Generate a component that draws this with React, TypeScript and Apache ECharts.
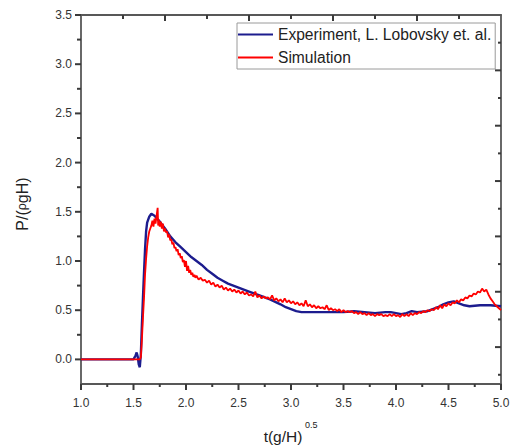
import React, { useEffect, useRef } from "react";
import * as echarts from "echarts";

// ---- Data ----
const EXP_X = [1.0, 1.5, 1.52, 1.53, 1.54, 1.55, 1.56, 1.57, 1.58, 1.59, 1.6, 1.61, 1.62, 1.63, 1.65, 1.67, 1.7, 1.75, 1.8, 1.85, 1.9, 1.95, 2.0, 2.05, 2.1, 2.15, 2.2, 2.25, 2.3, 2.35, 2.4, 2.45, 2.5, 2.6, 2.7, 2.8, 2.9, 2.95, 3.0, 3.05, 3.1, 3.2, 3.3, 3.4, 3.5, 3.6, 3.7, 3.8, 3.9, 3.95, 4.0, 4.05, 4.1, 4.15, 4.2, 4.3, 4.4, 4.45, 4.5, 4.55, 4.6, 4.65, 4.7, 4.8, 4.9, 5.0];
const EXP_Y = [0, 0, 0.04, 0.07, 0.03, -0.05, -0.08, 0.05, 0.35, 0.62, 0.88, 1.12, 1.3, 1.39, 1.45, 1.48, 1.46, 1.4, 1.33, 1.25, 1.19, 1.14, 1.09, 1.04, 1.0, 0.96, 0.91, 0.87, 0.83, 0.8, 0.77, 0.75, 0.73, 0.69, 0.65, 0.61, 0.56, 0.53, 0.51, 0.49, 0.48, 0.48, 0.48, 0.48, 0.48, 0.49, 0.48, 0.47, 0.48, 0.48, 0.47, 0.46, 0.47, 0.49, 0.48, 0.49, 0.53, 0.56, 0.58, 0.59, 0.57, 0.55, 0.54, 0.55, 0.55, 0.54];

const SIM_X = [1.0, 1.5, 1.56, 1.57, 1.58, 1.59, 1.6, 1.61, 1.62, 1.63, 1.64, 1.65, 1.66, 1.67, 1.68, 1.69, 1.7, 1.71, 1.72, 1.73, 1.735, 1.74, 1.75, 1.76, 1.77, 1.78, 1.79, 1.8, 1.81, 1.82, 1.83, 1.84, 1.85, 1.86, 1.87, 1.88, 1.89, 1.9, 1.91, 1.92, 1.93, 1.94, 1.95, 1.96, 1.97, 1.98, 1.99, 2.0, 2.01, 2.02, 2.03, 2.04, 2.05, 2.06, 2.07, 2.08, 2.09, 2.1, 2.12, 2.14, 2.16, 2.18, 2.2, 2.22, 2.24, 2.26, 2.28, 2.3, 2.32, 2.34, 2.36, 2.38, 2.4, 2.42, 2.44, 2.46, 2.48, 2.5, 2.52, 2.54, 2.56, 2.58, 2.6, 2.62, 2.64, 2.66, 2.68, 2.7, 2.72, 2.74, 2.76, 2.78, 2.8, 2.82, 2.84, 2.86, 2.88, 2.9, 2.92, 2.94, 2.96, 2.98, 3.0, 3.02, 3.04, 3.06, 3.08, 3.1, 3.12, 3.14, 3.16, 3.18, 3.2, 3.22, 3.24, 3.26, 3.28, 3.3, 3.32, 3.34, 3.36, 3.38, 3.4, 3.42, 3.44, 3.46, 3.48, 3.5, 3.52, 3.54, 3.56, 3.58, 3.6, 3.62, 3.64, 3.66, 3.68, 3.7, 3.72, 3.74, 3.76, 3.78, 3.8, 3.82, 3.84, 3.86, 3.88, 3.9, 3.92, 3.94, 3.96, 3.98, 4.0, 4.02, 4.04, 4.06, 4.08, 4.1, 4.12, 4.14, 4.16, 4.18, 4.2, 4.22, 4.24, 4.26, 4.28, 4.3, 4.32, 4.34, 4.36, 4.38, 4.4, 4.42, 4.44, 4.46, 4.48, 4.5, 4.52, 4.54, 4.56, 4.58, 4.6, 4.62, 4.64, 4.66, 4.68, 4.7, 4.72, 4.74, 4.76, 4.78, 4.8, 4.82, 4.84, 4.86, 4.88, 4.9, 4.92, 4.94, 4.96, 4.98, 5.0];
const SIM_Y = [0, 0, 0, 0.02, 0.2, 0.42, 0.62, 0.86, 1.02, 1.15, 1.24, 1.3, 1.33, 1.36, 1.41, 1.35, 1.43, 1.38, 1.46, 1.54, 1.36, 1.42, 1.35, 1.4, 1.33, 1.38, 1.3, 1.33, 1.29, 1.3, 1.24, 1.27, 1.21, 1.22, 1.17, 1.19, 1.13, 1.14, 1.1, 1.12, 1.06, 1.08, 1.03, 1.05, 0.99, 1.01, 0.94, 1.0, 0.9, 0.95, 0.88, 0.91, 0.86, 0.88, 0.84, 0.86, 0.83, 0.85, 0.81, 0.83, 0.8, 0.81, 0.78, 0.8, 0.76, 0.78, 0.74, 0.76, 0.73, 0.75, 0.71, 0.73, 0.7, 0.72, 0.69, 0.71, 0.68, 0.7, 0.67, 0.69, 0.66, 0.68, 0.65, 0.66, 0.64, 0.69, 0.63, 0.65, 0.62, 0.64, 0.62, 0.63, 0.61, 0.65, 0.6, 0.62, 0.59, 0.61, 0.58, 0.62, 0.58, 0.6, 0.57, 0.59, 0.56, 0.58, 0.55, 0.57, 0.54, 0.6, 0.54, 0.56, 0.53, 0.55, 0.52, 0.54, 0.52, 0.53, 0.51, 0.55, 0.5, 0.52, 0.5, 0.51, 0.49, 0.51, 0.48, 0.5, 0.48, 0.49, 0.48, 0.49, 0.47, 0.48, 0.46, 0.48, 0.46, 0.47, 0.45, 0.47, 0.45, 0.46, 0.44, 0.46, 0.45, 0.46, 0.44, 0.45, 0.44, 0.46, 0.44, 0.46, 0.44, 0.45, 0.43, 0.46, 0.44, 0.46, 0.44, 0.47, 0.45, 0.47, 0.46, 0.48, 0.47, 0.49, 0.48, 0.5, 0.49, 0.51, 0.5, 0.53, 0.51, 0.55, 0.52, 0.56, 0.54, 0.57, 0.55, 0.58, 0.57, 0.6, 0.58, 0.61, 0.6, 0.63, 0.62, 0.65, 0.64, 0.67, 0.66, 0.69, 0.68, 0.72, 0.69, 0.71, 0.66, 0.62, 0.59, 0.56, 0.54, 0.52, 0.5];

const SERIES_NAMES = ["Experiment, L. Lobovsky et. al.", "Simulation"];

// Axis ranges and tick values
const X_MIN = 1.0;
const X_MAX = 5.0;
const Y_MIN = -0.25;
const Y_MAX = 3.5;
const X_MAJOR = [1.0, 1.5, 2.0, 2.5, 3.0, 3.5, 4.0, 4.5, 5.0];
const X_MINOR = [1.25, 1.75, 2.25, 2.75, 3.25, 3.75, 4.25, 4.75];
const Y_MAJOR = [0, 0.5, 1.0, 1.5, 2.0, 2.5, 3.0, 3.5];
const Y_MINOR = [0.25, 0.75, 1.25, 1.75, 2.25, 2.75, 3.25];
const TOP_MAJOR = [1.8, 2.6, 3.4, 4.2];
const TOP_MINOR = [1.4, 2.2, 3.0, 3.8, 4.6];
const RIGHT_MAJOR = [2.9375, 2.375, 1.8125, 1.25, 0.6875, 0.125];
const RIGHT_MINOR = [3.21875, 2.65625, 2.09375, 1.53125, 0.96875, 0.40625, -0.15625];

const FONT = "Liberation Sans, Arial, sans-serif";
const AXIS_COLOR = "#585858";
const TICK_COLOR = "#3a3a3a";

export default function App() {
  const ref = useRef<HTMLDivElement>(null);

  useEffect(() => {
    document.body.style.margin = "0";
    if (!ref.current) return;
    const chart = echarts.init(ref.current, null, { renderer: "svg" });

    const expData = EXP_X.map((x, i) => [x, EXP_Y[i]]);
    const simData = SIM_X.map((x, i) => [x, SIM_Y[i]]);

    const lineAxis = { show: true, onZero: false, lineStyle: { color: AXIS_COLOR, width: 1.8 } };
    const fmt = (v: number) => v.toFixed(1);

    const option: any = {
      animation: false,
      backgroundColor: "#ffffff",
      grid: { left: 81, right: 9, top: 15, bottom: 63, containLabel: false, outerBoundsMode: "none" },
      legend: {
        orient: "vertical",
        left: 237,
        top: 23,
        icon: "rect",
        itemWidth: 35,
        itemHeight: 2,
        itemGap: 6,
        padding: [3, 4, 3, 1],
        borderColor: "#9a9a9a",
        borderWidth: 1,
        borderRadius: 0,
        backgroundColor: "#ffffff",
        textStyle: { fontSize: 15.6, fontFamily: FONT, color: "#222", lineHeight: 17 },
        data: SERIES_NAMES,
      },
      xAxis: [
        {
          type: "value",
          position: "bottom",
          min: X_MIN,
          max: X_MAX,
          interval: 0.5,
          axisLine: lineAxis,
          axisTick: { show: false },
          splitLine: { show: false },
          axisLabel: { fontSize: 12, fontFamily: FONT, color: "#333", margin: 13, formatter: fmt },
        },
        {
          type: "value",
          position: "top",
          min: X_MIN,
          max: X_MAX,
          axisLine: lineAxis,
          axisTick: { show: false },
          splitLine: { show: false },
          axisLabel: { show: false },
        },
      ],
      yAxis: [
        {
          type: "value",
          position: "left",
          min: Y_MIN,
          max: Y_MAX,
          axisLine: lineAxis,
          axisTick: { show: false },
          splitLine: { show: false },
          axisLabel: { fontSize: 12, fontFamily: FONT, color: "#333", margin: 9, customValues: Y_MAJOR, formatter: fmt },
        },
        {
          type: "value",
          position: "right",
          min: Y_MIN,
          max: Y_MAX,
          axisLine: lineAxis,
          axisTick: { show: false },
          splitLine: { show: false },
          axisLabel: { show: false },
        },
      ],
      series: [
        {
          name: SERIES_NAMES[0],
          type: "line",
          xAxisIndex: 0,
          yAxisIndex: 0,
          data: expData,
          symbol: "none",
          showSymbol: false,
          color: "#1c1c8e",
          lineStyle: { color: "#1c1c8e", width: 2.4 },
          z: 2,
        },
        {
          name: SERIES_NAMES[1],
          type: "line",
          xAxisIndex: 0,
          yAxisIndex: 0,
          data: simData,
          symbol: "none",
          showSymbol: false,
          color: "#ff0000",
          lineStyle: { color: "#ff0000", width: 1.8 },
          z: 3,
        },
      ],
    };

    chart.setOption(option);

    // Tick marks, positioned through the chart's own scales
    const finder = { xAxisIndex: 0, yAxisIndex: 0 };
    const px = (x: number, y: number) => chart.convertToPixel(finder, [x, y]) as number[];
    const tickLine = (x1: number, y1: number, x2: number, y2: number) => ({
      type: "line",
      silent: true,
      z: 10,
      shape: { x1, y1, x2, y2 },
      style: { stroke: TICK_COLOR, lineWidth: 2 },
    });
    const ticks: any[] = [];
    const addX = (vals: number[], yv: number, len: number) =>
      vals.forEach((v) => {
        const p = px(v, yv);
        ticks.push(tickLine(p[0], p[1], p[0], p[1] + len));
      });
    const addY = (vals: number[], xv: number, len: number) =>
      vals.forEach((v) => {
        const p = px(xv, v);
        ticks.push(tickLine(p[0], p[1], p[0] - len, p[1]));
      });
    addX(X_MAJOR, Y_MIN, 6);
    addX(X_MINOR, Y_MIN, 3);
    addX(TOP_MAJOR, Y_MAX, 6);
    addX(TOP_MINOR, Y_MAX, 4);
    addY(Y_MAJOR, X_MIN, 6);
    addY(Y_MINOR, X_MIN, 4);
    addY(RIGHT_MAJOR, X_MAX, 6);
    addY(RIGHT_MINOR, X_MAX, 3);

    const texts: any[] = [
      {
        type: "text",
        x: 22,
        y: 204,
        rotation: Math.PI / 2,
        style: {
          text: "{a|P/(}{b|ρ}{a|gH)}",
          align: "center",
          verticalAlign: "middle",
          rich: {
            a: { fontSize: 16, fontFamily: FONT, fill: "#222" },
            b: { fontSize: 12.5, fontFamily: FONT, fill: "#222" },
          },
        },
      },
      {
        type: "text",
        x: 283,
        y: 436,
        style: {
          text: "t(g/H)",
          align: "center",
          verticalAlign: "middle",
          fontSize: 15.5,
          fontFamily: FONT,
          fill: "#222",
        },
      },
      {
        type: "text",
        x: 305,
        y: 425,
        style: {
          text: "0.5",
          align: "left",
          verticalAlign: "middle",
          fontSize: 9,
          fontFamily: FONT,
          fill: "#222",
        },
      },
    ];

    chart.setOption({ graphic: [...texts, ...ticks] });
    return () => chart.dispose();
  }, []);

  return <div ref={ref} style={{ width: 510, height: 447 }} />;
}
